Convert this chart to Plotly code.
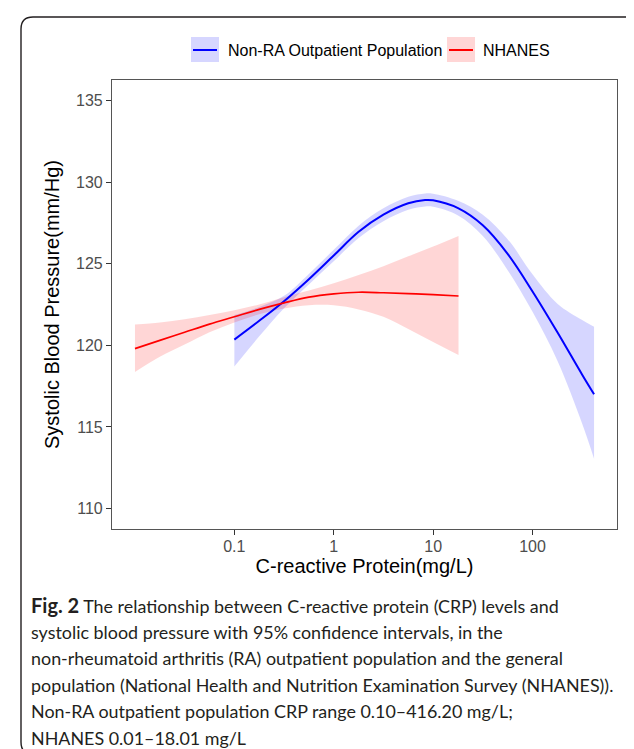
import plotly.graph_objects as go

# ---------------- data ----------------
# Non-RA outpatient population (blue)
crp_nonra = [0.1, 0.178, 0.316, 0.562, 1.0, 1.78, 3.16, 5.62, 8.3, 10.0, 17.8,
             31.6, 56.2, 100.0, 178.0, 316.0, 416.2]
sbp_nonra = [120.35, 121.5, 122.7, 124.05, 125.5, 126.95, 128.0, 128.7, 128.9,
             128.88, 128.4, 127.35, 125.6, 123.3, 120.8, 118.2, 117.0]
lo_nonra = [118.7, 120.55, 122.27, 123.73, 125.15, 126.57, 127.6, 128.3, 128.5,
            128.48, 127.95, 126.7, 124.6, 122.05, 119.05, 115.2, 113.06]
hi_nonra = [121.85, 122.35, 123.03, 124.37, 125.85, 127.33, 128.4, 129.1, 129.3,
            129.28, 128.85, 128.0, 126.5, 124.35, 122.55, 121.55, 121.13]

# NHANES (red)
crp_nhanes = [0.01, 0.0178, 0.0316, 0.0562, 0.1, 0.178, 0.316, 0.562, 1.0,
              1.78, 3.16, 5.62, 10.0, 18.01]
sbp_nhanes = [119.8, 120.3, 120.8, 121.3, 121.75, 122.2, 122.6, 122.95, 123.15,
              123.25, 123.22, 123.17, 123.1, 123.02]
lo_nhanes = [118.37, 119.3, 120.05, 120.8, 121.4, 121.9, 122.25, 122.45, 122.45,
             122.2, 121.75, 121.0, 120.2, 119.4]
hi_nhanes = [121.27, 121.4, 121.6, 121.85, 122.15, 122.5, 122.95, 123.35, 123.8,
             124.3, 124.85, 125.45, 126.05, 126.7]

x_tickvals = [0.1, 1, 10, 100]
x_ticktext = ["0.1", "1", "10", "100"]
y_tickvals = [110, 115, 120, 125, 130, 135]

series_names = ["Non-RA Outpatient Population", "NHANES"]

caption_lines = [
    "<b><span style='font-size:20px'>Fig. 2</span></b> The relationship between C-reactive protein (CRP) levels and",
    "systolic blood pressure with 95% confidence intervals, in the",
    "non-rheumatoid arthritis (RA) outpatient population and the general",
    "population (National Health and Nutrition Examination Survey (NHANES)).",
    "Non-RA outpatient population CRP range 0.10\u2013416.20 mg/L;",
    "NHANES 0.01\u201318.01 mg/L",
]

# ---------------- layout geometry ----------------
W, H = 634, 749
PL, PR, PT, PB = 104, 609, 72, 521  # plot area in px


def px(xp):
    return (xp - PL) / (PR - PL)


def py(yp):
    return (PB - yp) / (PB - PT)


BLUE = "#0000ff"
RED = "#ff0000"
BLUE_FILL = "rgba(0,0,255,0.16)"
RED_FILL = "rgba(255,0,0,0.16)"
SM = 1.0

fig = go.Figure()


def add_band(x, lo, hi, fill):
    fig.add_trace(go.Scatter(x=x, y=lo, mode="lines", line=dict(width=0, shape="spline", smoothing=SM),
                             hoverinfo="skip", showlegend=False))
    fig.add_trace(go.Scatter(x=x, y=hi, mode="lines", line=dict(width=0, shape="spline", smoothing=SM),
                             fill="tonexty", fillcolor=fill, hoverinfo="skip", showlegend=False))


add_band(crp_nonra, lo_nonra, hi_nonra, BLUE_FILL)
add_band(crp_nhanes, lo_nhanes, hi_nhanes, RED_FILL)

fig.add_trace(go.Scatter(x=crp_nonra, y=sbp_nonra, mode="lines", name=series_names[0],
                         line=dict(color=BLUE, width=2, shape="spline", smoothing=SM),
                         showlegend=False))
fig.add_trace(go.Scatter(x=crp_nhanes, y=sbp_nhanes, mode="lines", name=series_names[1],
                         line=dict(color=RED, width=1.7, shape="spline", smoothing=SM),
                         showlegend=False))

shapes = []
annotations = []

# rounded outer frame
x0, x1, y0, y1 = px(13), px(632), py(9), py(746)
rx, ry = 12 / (PR - PL), 12 / (PB - PT)
path = (f"M {x0 + rx} {y0} L {x1 - rx} {y0} Q {x1} {y0} {x1} {y0 - ry} "
        f"L {x1} {y1 + ry} Q {x1} {y1} {x1 - rx} {y1} "
        f"L {x0 + rx} {y1} Q {x0} {y1} {x0} {y1 + ry} "
        f"L {x0} {y0 - ry} Q {x0} {y0} {x0 + rx} {y0} Z")
shapes.append(dict(type="path", path=path, xref="paper", yref="paper",
                   line=dict(color="#231f20", width=1.4), layer="below"))

# manual legend (ggplot style keys)
leg_y = 42
for kx, tx, name, col, fcol in [(183, 218, series_names[0], BLUE, BLUE_FILL),
                                (439, 473, series_names[1], RED, RED_FILL)]:
    shapes.append(dict(type="rect", xref="paper", yref="paper",
                       x0=px(kx), x1=px(kx + 28), y0=py(leg_y - 13), y1=py(leg_y + 12),
                       fillcolor=fcol, line=dict(width=0)))
    shapes.append(dict(type="line", xref="paper", yref="paper",
                       x0=px(kx + 2), x1=px(kx + 26), y0=py(leg_y), y1=py(leg_y),
                       line=dict(color=col, width=2)))
    annotations.append(dict(text=name, xref="paper", yref="paper", x=px(tx), y=py(leg_y),
                            xanchor="left", yanchor="middle", showarrow=False,
                            font=dict(family="Liberation Sans, Arial, sans-serif", size=16, color="#000000")))

# caption
cap_y0, cap_dy = 597, 26.5
for i, line in enumerate(caption_lines):
    annotations.append(dict(text=line, xref="paper", yref="paper", x=px(21), y=py(cap_y0 + i * cap_dy),
                            xanchor="left", yanchor="middle", showarrow=False,
                            font=dict(family="Lato, Open Sans, sans-serif", size=17.9, color="#231f20")))

fig.update_layout(
    width=W, height=H,
    margin=dict(l=PL, r=W - PR, t=PT, b=H - PB, autoexpand=False),
    paper_bgcolor="white", plot_bgcolor="white",
    shapes=shapes, annotations=annotations,
    showlegend=False,
    font=dict(family="Liberation Sans, Arial, sans-serif"),
)

fig.update_xaxes(type="log", range=[-2.231, 2.850], tickvals=x_tickvals, ticktext=x_ticktext,
                 showgrid=False, zeroline=False, showline=True, mirror=True,
                 linecolor="#555555", linewidth=1.2,
                 ticks="outside", ticklen=5, tickwidth=1.2, tickcolor="#333333",
                 ticklabelstandoff=-2,
                 tickfont=dict(size=16, color="#4d4d4d"),
                 title=dict(text="C-reactive Protein(mg/L)", font=dict(size=20, color="#000000"), standoff=0))
fig.update_yaxes(range=[108.75, 136.25], tickvals=y_tickvals,
                 showgrid=False, zeroline=False, showline=True, mirror=True,
                 linecolor="#555555", linewidth=1.2,
                 ticks="outside", ticklen=5, tickwidth=1.2, tickcolor="#333333",
                 tickfont=dict(size=16, color="#4d4d4d"),
                 title=dict(text="Systolic Blood Pressure(mm/Hg)", font=dict(size=20, color="#000000"), standoff=10))

fig.write_html("out.html")
